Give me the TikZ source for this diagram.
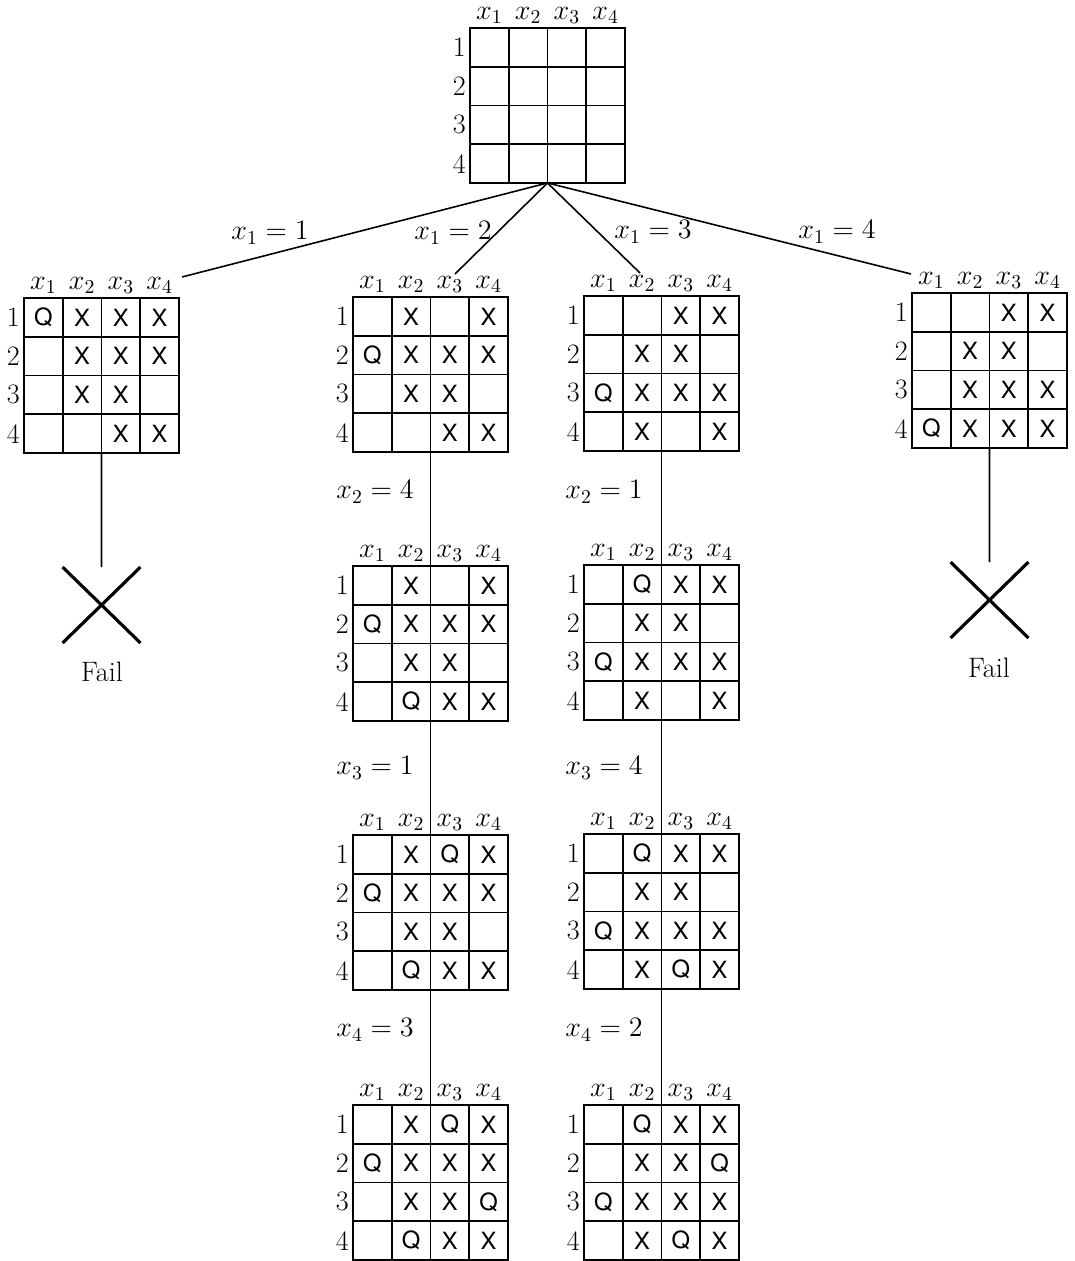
\RequirePackage{fix-cm}
\documentclass[tikz,border=0pt]{standalone}
\usepackage{fontspec}
\newfontfamily\cellfont{TeX Gyre Heros}
\usetikzlibrary{shapes.misc}
\tikzset{
  boardbox/.style={draw, line width=1.2pt, minimum width=3.1cm, minimum height=3.1cm, inner sep=0pt, outer sep=0pt, anchor=north west},
  gridline/.style={line width=1.1pt},
  cellmark/.style={font=\cellfont\fontsize{13.5}{16}\selectfont, inner sep=0pt},
  rownum/.style={anchor=east, inner sep=1pt},
  collabel/.style={anchor=base, inner sep=0pt},
  branch/.style={line width=0.9pt},
  branchlabel/.style={inner sep=1pt},
  failcross/.style={cross out, draw, line width=1.8pt, minimum width=1.56cm, minimum height=1.52cm, inner sep=0pt, outer sep=0pt},
}
\newcommand\qboard[4]{%
  \begin{scope}[shift={(#2,#3)}]
    \node[boardbox] (#1) at (0,0) {};
    \foreach \i in {1,2,3} {
      \draw[gridline] (\i*38.75,0) -- (\i*38.75,155);
      \draw[gridline] (0,\i*38.75) -- (155,\i*38.75);
    }
    \foreach \k in {1,...,4} {
      \node[collabel] (#1-c\k) at ({(\k-0.5)*38.75},-9) {$x_{\k}$};
      \node[rownum] (#1-r\k) at (-2,{(\k-0.5)*38.75}) {\k};
    }
    \foreach \row [count=\r] in {#4} {
      \foreach \c [count=\k] in \row {
        \node[cellmark] (#1-\r-\k) at ({(\k-0.5)*38.75},{(\r-0.5)*38.75}) {\c};
      }
    }
  \end{scope}
}
\begin{document}
\begin{tikzpicture}[x=0.02cm, y=-0.02cm, font=\fontsize{16}{19}\selectfont]
  \useasboundingbox (0,0) rectangle (1075,1261);

  % root
  \qboard{R}{470}{28}{{{},{},{},{}},{{},{},{},{}},{{},{},{},{}},{{},{},{},{}}}

  % level 1
  \qboard{b1}{24}{298}{{Q,X,X,X},{{},X,X,X},{{},X,X,{}},{{},{},X,X}}
  \qboard{b2}{353}{297}{{{},X,{},X},{Q,X,X,X},{{},X,X,{}},{{},{},X,X}}
  \qboard{b3}{584}{296}{{{},{},X,X},{{},X,X,{}},{Q,X,X,X},{{},X,{},X}}
  \qboard{b4}{912}{293}{{{},{},X,X},{{},X,X,{}},{{},X,X,X},{Q,X,X,X}}

  % level 2
  \qboard{b5}{353}{566}{{{},X,{},X},{Q,X,X,X},{{},X,X,{}},{{},Q,X,X}}
  \qboard{b6}{584}{565}{{{},Q,X,X},{{},X,X,{}},{Q,X,X,X},{{},X,{},X}}

  % level 3
  \qboard{b7}{353}{835}{{{},X,Q,X},{Q,X,X,X},{{},X,X,{}},{{},Q,X,X}}
  \qboard{b8}{584}{834}{{{},Q,X,X},{{},X,X,{}},{Q,X,X,X},{{},X,Q,X}}

  % level 4
  \qboard{b9}{353}{1105}{{{},X,Q,X},{Q,X,X,X},{{},X,X,Q},{{},Q,X,X}}
  \qboard{b10}{584}{1105}{{{},Q,X,X},{{},X,X,Q},{Q,X,X,X},{{},X,Q,X}}

  % branch ends
  \coordinate (e1) at (182,277);
  \coordinate (e2) at (455,274);
  \coordinate (e3) at (640,273);
  \coordinate (e4) at (911,274);

  \draw[branch] (R.south) -- (e1);
  \draw[branch] (R.south) -- (e2);
  \draw[branch] (R.south) -- (e3);
  \draw[branch] (R.south) -- (e4);

  \node[branchlabel] (l1) at (270,233) {$x_1 = 1$};
  \node[branchlabel] (l2) at (453,233) {$x_1 = 2$};
  \node[branchlabel] (l3) at (653,232) {$x_1 = 3$};
  \node[branchlabel] (l4) at (837,232) {$x_1 = 4$};

  % chains
  \draw[branch] (b2.south) -- (b5.north);
  \draw[branch] (b5.south) -- (b7.north);
  \draw[branch] (b7.south) -- (b9.north);
  \draw[branch] (b3.south) -- (b6.north);
  \draw[branch] (b6.south) -- (b8.north);
  \draw[branch] (b8.south) -- (b10.north);

  \node[branchlabel] (m1) at (375,492) {$x_2 = 4$};
  \node[branchlabel] (m2) at (604,492) {$x_2 = 1$};
  \node[branchlabel] (m3) at (375,768) {$x_3 = 1$};
  \node[branchlabel] (m4) at (604,768) {$x_3 = 4$};
  \node[branchlabel] (m5) at (375,1030) {$x_4 = 3$};
  \node[branchlabel] (m6) at (604,1030) {$x_4 = 2$};

  % fails
  \node[failcross] (f1) at (101.5,605) {};
  \node[failcross] (f2) at (989.5,600) {};
  \draw[branch] (b1.south) -- (f1.north);
  \draw[branch] (b4.south) -- (f2.north);
  \node (fl1) at (102,672) {Fail};
  \node (fl2) at (989,668) {Fail};
\end{tikzpicture}
\end{document}
